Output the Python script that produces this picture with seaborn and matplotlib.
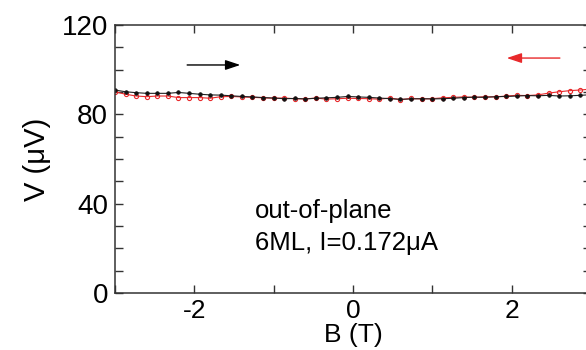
import numpy as np
import pandas as pd
import matplotlib
matplotlib.use("Agg")
import matplotlib.pyplot as plt
import seaborn as sns

# --- data ---
B_field = np.linspace(-3, 3, 46)
V_up = [90.9, 90.1, 89.7, 89.4, 89.4, 89.4, 89.8, 89.4, 89.0, 88.7,
        88.6, 88.3, 88.0, 87.8, 87.5, 87.3, 87.0, 87.1, 86.9, 87.2,
        87.4, 87.6, 88.0, 87.8, 87.6, 87.3, 87.0, 86.7, 86.9, 87.0,
        86.9, 87.0, 87.2, 87.5, 87.7, 87.6, 87.9, 88.0, 88.2, 88.4,
        88.3, 88.5, 88.2, 88.3, 88.5, 88.8]
V_down = [90.1, 89.0, 88.2, 87.9, 88.2, 88.2, 87.5, 87.5, 87.5, 87.2,
          87.9, 88.0, 87.8, 87.6, 87.4, 87.2, 87.3, 87.0, 86.9, 87.3,
          86.8, 87.0, 87.2, 87.1, 87.0, 86.8, 87.3, 86.6, 87.1, 86.9,
          87.0, 87.4, 87.6, 87.8, 87.6, 87.9, 87.8, 88.2, 88.5, 88.4,
          88.7, 89.5, 90.1, 90.6, 90.9, 91.3]
x_ticks = [-2, 0, 2]
y_ticks = [0, 40, 80, 120]
annot_lines = ["out-of-plane", "6ML, I=0.172\u03bcA"]

df_up = pd.DataFrame({"B": B_field, "V": V_up})
df_down = pd.DataFrame({"B": B_field, "V": V_down})

sns.set_style("ticks")
plt.rcParams['font.family'] = ['Liberation Sans', 'DejaVu Sans']
plt.rcParams.update({"text.color": "black", "axes.labelcolor": "black",
                     "xtick.color": "black", "ytick.color": "black",
                     "axes.edgecolor": "black"})

fig = plt.figure(figsize=(5.86, 3.5), dpi=100)
ax = fig.add_axes([115/586, 1-293/350, 475.8/586, 268/350])

RED = "#e8292b"
sns.lineplot(data=df_down, x="B", y="V", ax=ax, color=RED, lw=0.8, sort=False,
             marker="o", markersize=3, markerfacecolor="none",
             markeredgecolor=RED, markeredgewidth=0.8)
sns.lineplot(data=df_up, x="B", y="V", ax=ax, color="#222222", lw=0.8, sort=False,
             marker="o", markersize=2.6, markerfacecolor="#111111",
             markeredgecolor="#111111", markeredgewidth=0.5)

ax.set_xlim(-3, 3)
ax.set_ylim(0, 120)
ax.set_xticks(x_ticks)
ax.set_xticks([-3, -1, 1, 3], minor=True)
ax.set_yticks(y_ticks)
ax.set_yticks([10, 20, 30, 50, 60, 70, 90, 100, 110], minor=True)
ax.set_xticklabels([str(t) for t in x_ticks])
ax.set_yticklabels([str(t) for t in y_ticks])
ax.tick_params(which="both", direction="in", top=True, right=True,
               length=6, width=1.0, color="#333333")
ax.tick_params(axis="y", which="major", labelsize=20, pad=5)
ax.tick_params(axis="x", which="major", labelsize=19, pad=4)
for s in ax.spines.values():
    s.set_linewidth(1.1)
    s.set_color("#333333")

ax.set_xlabel("B (T)", fontsize=19, labelpad=0)
ax.set_ylabel("V (\u03bcV)", fontsize=21, labelpad=8)

ax.text(-1.235, 33.6, annot_lines[0], fontsize=18.5, va="baseline", ha="left")
ax.text(-1.235, 19.3, annot_lines[1], fontsize=18.5, va="baseline", ha="left")

ax.annotate("", xy=(-1.42, 102.1), xytext=(-2.09, 102.1),
            arrowprops=dict(arrowstyle="-|>,head_length=0.9,head_width=0.3",
                            color="black", lw=1.0, shrinkA=0, shrinkB=0))
ax.annotate("", xy=(1.94, 105.2), xytext=(2.61, 105.2),
            arrowprops=dict(arrowstyle="-|>,head_length=0.9,head_width=0.3",
                            color=RED, lw=1.0, shrinkA=0, shrinkB=0))

fig.savefig("out.png", dpi=100)
